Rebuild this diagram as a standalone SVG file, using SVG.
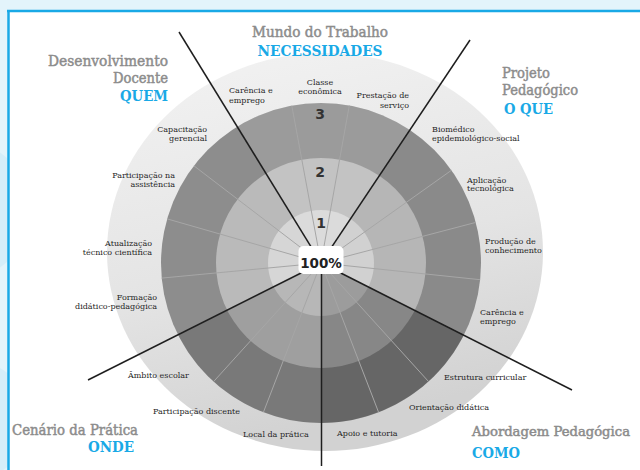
<svg xmlns="http://www.w3.org/2000/svg" width="640" height="470" viewBox="0 0 640 470">
  <defs>
    <linearGradient id="haloFill" x1="0" y1="0" x2="0.25" y2="1">
      <stop offset="0" stop-color="#f3f3f3"/>
      <stop offset="0.6" stop-color="#e4e4e4"/>
      <stop offset="1" stop-color="#d2d2d2"/>
    </linearGradient>
    <clipPath id="marginClip">
      <rect x="0" y="0" width="8" height="470"/>
    </clipPath>
    <style>
      .title { font-family: "DejaVu Serif", "Liberation Serif", serif; font-size: 15px; fill: #8c8c8c; stroke: #8c8c8c; stroke-width: 0.5; }
      .title.narrow { font-size: 13px; }
      .key { font-family: "DejaVu Serif", "Liberation Serif", serif; font-size: 15px; font-weight: bold; fill: #19a9e6; }
      .lbl { font-family: "DejaVu Serif", "Liberation Serif", serif; font-size: 8px; fill: #262626; }
      .num { font-family: "DejaVu Sans", "Liberation Sans", sans-serif; font-size: 14px; font-weight: bold; fill: #333333; text-anchor: middle; }
      .divider { stroke: #a6a6a6; stroke-width: 1; fill: none; }
      .axis { stroke: #1e1e1e; stroke-width: 1.5; fill: none; }
    </style>
  </defs>

  <!-- page background and frame -->
  <rect x="0" y="0" width="640" height="470" fill="#ffffff"/>
  <rect x="0" y="0" width="640" height="10" fill="#e3f4fb"/>
  <rect x="0" y="0" width="8" height="470" fill="#e3f4fb"/>
  <g clip-path="url(#marginClip)">
    <circle cx="-40" cy="210" r="70" fill="#d5eef9"/>
    <circle cx="-30" cy="420" r="60" fill="#d5eef9"/>
  </g>
  <line x1="7" y1="11" x2="640" y2="11" stroke="#19a9e6" stroke-width="2.5"/>
  <line x1="8.5" y1="10" x2="8.5" y2="470" stroke="#19a9e6" stroke-width="2.5"/>

  <!-- wheel -->
  <g id="wheel">
    <ellipse cx="325" cy="252" rx="218" ry="199" fill="url(#haloFill)"/>
    <g transform="translate(321,263)">
      <circle r="160" fill="#8d8d8d"/>
      <circle r="105" fill="#bababa"/>
      <circle r="53" fill="#d6d6d6"/>
      <!-- sector tints -->
      <path d="M0,0 L-82.9,-136.9 A160,160 0 0 1 89.2,-132.8 Z" fill="#ffffff" fill-opacity="0.13"/>
      <path d="M0,0 L142.9,71.9 A160,160 0 0 1 0,160 Z" fill="#000000" fill-opacity="0.27"/>
      <path d="M0,0 L0,160 A160,160 0 0 1 -142.8,72.1 Z" fill="#000000" fill-opacity="0.14"/>
      <path d="M0,0 L89.2,-132.8 A160,160 0 0 1 142.9,71.9 Z" fill="#000000" fill-opacity="0.02"/>
    </g>
  </g>

  <!-- connectors: segment dividers and sector axes -->
  <g id="connectors">
    <g transform="translate(321,263)">
      <line class="divider" x1="0" y1="0" x2="-29.2" y2="-157.3"/>
      <line class="divider" x1="0" y1="0" x2="28.3" y2="-157.5"/>
      <line class="divider" x1="0" y1="0" x2="130.4" y2="-92.7"/>
      <line class="divider" x1="0" y1="0" x2="154.8" y2="-40.6"/>
      <line class="divider" x1="0" y1="0" x2="159.1" y2="16.7"/>
      <line class="divider" x1="0" y1="0" x2="107.5" y2="118.5"/>
      <line class="divider" x1="0" y1="0" x2="57.6" y2="149.3"/>
      <line class="divider" x1="0" y1="0" x2="-57.6" y2="149.3"/>
      <line class="divider" x1="0" y1="0" x2="-107.4" y2="118.6"/>
      <line class="divider" x1="0" y1="0" x2="-159.3" y2="15.1"/>
      <line class="divider" x1="0" y1="0" x2="-153.8" y2="-44.1"/>
      <line class="divider" x1="0" y1="0" x2="-127.1" y2="-97.2"/>
    </g>
    <line class="axis" x1="321" y1="263" x2="179" y2="32"/>
    <line class="axis" x1="321" y1="263" x2="470" y2="40"/>
    <line class="axis" x1="321" y1="263" x2="572" y2="390"/>
    <line class="axis" x1="321.5" y1="263" x2="321.5" y2="466"/>
    <line class="axis" x1="321" y1="263" x2="88" y2="380"/>
  </g>

  <!-- ring levels -->
  <g id="levels">
    <text class="num" x="320" y="119">3</text>
    <text class="num" x="320" y="177">2</text>
    <text class="num" x="321" y="228">1</text>
  </g>

  <!-- centre -->
  <g id="centre">
    <rect x="298.5" y="246" width="45" height="28" rx="5" fill="#ffffff"/>
    <text x="321" y="268" font-family="DejaVu Sans, Liberation Sans, sans-serif" font-size="13.5" font-weight="bold" fill="#222222" text-anchor="middle">100%</text>
  </g>

  <!-- Mundo do Trabalho -->
  <g id="mundo-trabalho">
    <text class="title" x="320" y="37" text-anchor="middle" textLength="136" lengthAdjust="spacingAndGlyphs">Mundo do Trabalho</text>
    <text class="key" x="320" y="56" text-anchor="middle" textLength="125" lengthAdjust="spacingAndGlyphs">NECESSIDADES</text>
    <text class="lbl" x="229" y="93">Carência e</text>
    <text class="lbl" x="229" y="103">emprego</text>
    <text class="lbl" x="320" y="85" text-anchor="middle">Classe</text>
    <text class="lbl" x="320" y="94" text-anchor="middle">econômica</text>
    <text class="lbl" x="409" y="98" text-anchor="end">Prestação de</text>
    <text class="lbl" x="409" y="108" text-anchor="end">serviço</text>
  </g>

  <!-- Desenvolvimento Docente -->
  <g id="desenvolvimento-docente">
    <text class="title" x="168" y="66" text-anchor="end" textLength="120" lengthAdjust="spacingAndGlyphs">Desenvolvimento</text>
    <text class="title" x="168" y="83" text-anchor="end" textLength="55" lengthAdjust="spacingAndGlyphs">Docente</text>
    <text class="key" x="168" y="101" text-anchor="end" textLength="48" lengthAdjust="spacingAndGlyphs">QUEM</text>
    <text class="lbl" x="207" y="132" text-anchor="end">Capacitação</text>
    <text class="lbl" x="207" y="141" text-anchor="end">gerencial</text>
    <text class="lbl" x="175" y="178" text-anchor="end">Participação na</text>
    <text class="lbl" x="175" y="187" text-anchor="end">assistência</text>
    <text class="lbl" x="152" y="246" text-anchor="end">Atualização</text>
    <text class="lbl" x="152" y="255" text-anchor="end">técnico científica</text>
    <text class="lbl" x="157" y="300" text-anchor="end">Formação</text>
    <text class="lbl" x="157" y="309" text-anchor="end">didático-pedagógica</text>
  </g>

  <!-- Projeto Pedagógico -->
  <g id="projeto-pedagogico">
    <text class="title" x="502" y="78" textLength="48" lengthAdjust="spacingAndGlyphs">Projeto</text>
    <text class="title" x="502" y="95" textLength="76" lengthAdjust="spacingAndGlyphs">Pedagógico</text>
    <text class="key" x="504" y="114" textLength="49" lengthAdjust="spacingAndGlyphs">O QUE</text>
    <text class="lbl" x="432" y="132">Biomédico</text>
    <text class="lbl" x="432" y="141">epidemiológico-social</text>
    <text class="lbl" x="467" y="183">Aplicação</text>
    <text class="lbl" x="467" y="191">tecnológica</text>
    <text class="lbl" x="485" y="244">Produção de</text>
    <text class="lbl" x="485" y="253">conhecimento</text>
    <text class="lbl" x="480" y="315">Carência e</text>
    <text class="lbl" x="480" y="324">emprego</text>
  </g>

  <!-- Abordagem Pedagógica -->
  <g id="abordagem-pedagogica">
    <text class="title narrow" x="472" y="436" textLength="158" lengthAdjust="spacingAndGlyphs">Abordagem Pedagógica</text>
    <text class="key" x="472" y="458" textLength="48" lengthAdjust="spacingAndGlyphs">COMO</text>
    <text class="lbl" x="444" y="380">Estrutura curricular</text>
    <text class="lbl" x="409" y="410">Orientação didática</text>
    <text class="lbl" x="337" y="436">Apoio e tutoria</text>
  </g>

  <!-- Cenário da Prática -->
  <g id="cenario-pratica">
    <text class="title" x="12" y="435" textLength="126" lengthAdjust="spacingAndGlyphs">Cenário da Prática</text>
    <text class="key" x="134" y="452" text-anchor="end" textLength="46" lengthAdjust="spacingAndGlyphs">ONDE</text>
    <text class="lbl" x="128" y="378">Âmbito escolar</text>
    <text class="lbl" x="153" y="414">Participação discente</text>
    <text class="lbl" x="243" y="437">Local da prática</text>
  </g>
</svg>
